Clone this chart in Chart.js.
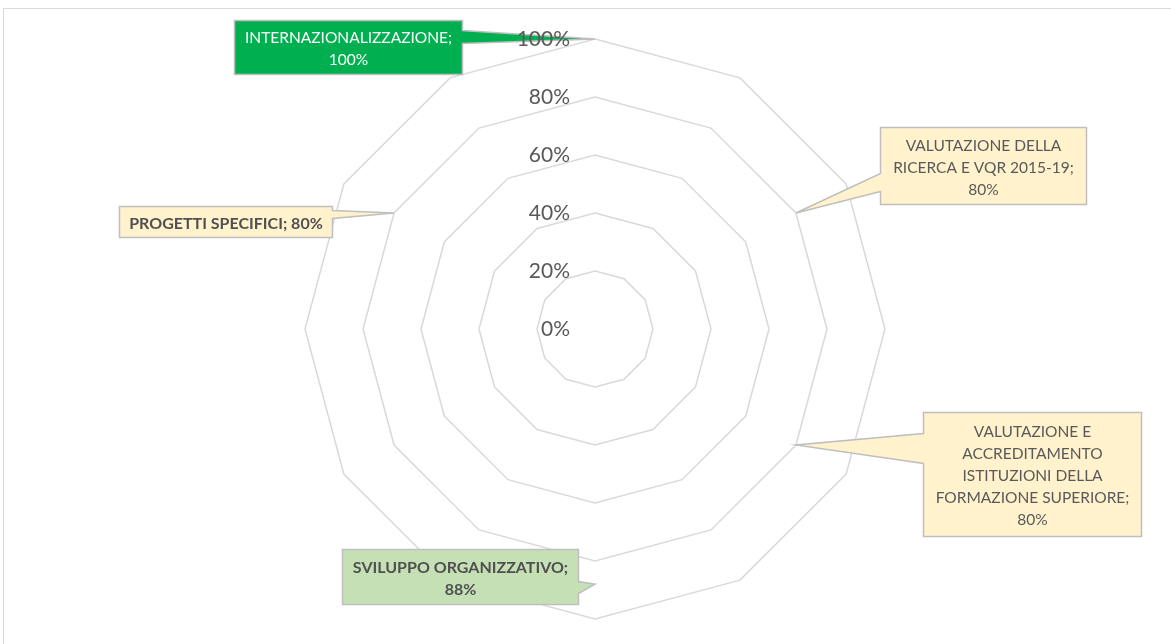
<!DOCTYPE html>
<html>
<head>
<meta charset="utf-8">
<script src="https://cdn.jsdelivr.net/npm/chart.js@4.4.1/dist/chart.umd.min.js"></script>
<style>
  html, body { margin: 0; padding: 0; background: #fff; }
  #wrap { position: relative; width: 1171px; height: 644px; }
</style>
</head>
<body>
<div id="wrap"><canvas id="radar" width="1171" height="644"></canvas></div>
<script>
// categories (blank ones are spokes without a label)
const categories = [
  "INTERNAZIONALIZZAZIONE", "",
  "VALUTAZIONE DELLA RICERCA E VQR 2015-19", "",
  "VALUTAZIONE E ACCREDITAMENTO ISTITUZIONI DELLA FORMAZIONE SUPERIORE", "",
  "SVILUPPO ORGANIZZATIVO", "",
  "", "",
  "PROGETTI SPECIFICI", ""
]
const values = [100, null, 80, null, 80, null, 88, null, null, null, 80, null]
const tickValues = [0, 20, 40, 60, 80, 100]

const FONT = "Lato, 'Open Sans', sans-serif"
const TEXT = "#595959"

// callout boxes, offsets relative to the data point
const callouts = {
  0:  { dx: -361, dy: -19.5, w: 228, h: 54,  side: "right", a: 10, b: 23, fill: "#00b050", color: "#ffffff", bold: false },
  2:  { dx: 84,   dy: -86,   w: 206, h: 77,  side: "left",  a: 46, b: 64, fill: "#fff2cc", color: TEXT, bold: false },
  4:  { dx: 127,  dy: -33,   w: 218, h: 124, side: "left",  a: 21, b: 51, fill: "#fff2cc", color: TEXT, bold: false },
  6:  { dx: -253, dy: -35,   w: 236, h: 55,  side: "right", a: 32, b: 44, fill: "#c5e0b4", color: "#505050", bold: true },
  10: { dx: -275, dy: -7,    w: 213, h: 31,  side: "right", a: 4,  b: 12, fill: "#fff2cc", color: "#505050", bold: true }
}

const wrapText = (ctx, text, maxW) => {
  const lines = []
  let line = ""
  text.split(" ").forEach(word => {
    const test = line ? line + " " + word : word
    if (line && ctx.measureText(test).width > maxW) {
      lines.push(line)
      line = word
    } else {
      line = test
    }
  })
  if (line) lines.push(line)
  return lines
}

const calloutPath = (ctx, x, y, w, h, c, tx, ty) => {
  ctx.beginPath()
  ctx.moveTo(x, y)
  ctx.lineTo(x + w, y)
  if (c.side === "right") {
    ctx.lineTo(x + w, y + c.a)
    ctx.lineTo(tx, ty)
    ctx.lineTo(x + w, y + c.b)
  }
  ctx.lineTo(x + w, y + h)
  ctx.lineTo(x, y + h)
  if (c.side === "left") {
    ctx.lineTo(x, y + c.b)
    ctx.lineTo(tx, ty)
    ctx.lineTo(x, y + c.a)
  }
  ctx.closePath()
}

const frame = {
  id: "frame",
  beforeDraw(chart) {
    const ctx = chart.ctx
    ctx.save()
    ctx.strokeStyle = "#d9d9d9"
    ctx.lineWidth = 1
    ctx.strokeRect(3.5, 8.5, 1300, 800)
    ctx.restore()
  }
}

const labels = {
  id: "labels",
  afterDraw(chart) {
    const ctx = chart.ctx
    const meta = chart.getDatasetMeta(0)
    ctx.save()
    Object.keys(callouts).forEach(k => {
      const i = +k
      const c = callouts[i]
      const pt = meta.data[i]
      const x = Math.round(pt.x + c.dx) + 0.5
      const y = Math.round(pt.y + c.dy) + 0.5
      calloutPath(ctx, x, y, c.w, c.h, c, pt.x, pt.y)
      ctx.fillStyle = c.fill
      ctx.fill()
      ctx.strokeStyle = "#bfbfbf"
      ctx.lineWidth = 1.5
      ctx.stroke()

      ctx.font = c.bold ? "bold 16px " + FONT : "15.5px " + FONT
      ctx.fillStyle = c.color
      ctx.textAlign = "center"
      ctx.textBaseline = "middle"
      const lines = wrapText(ctx, categories[i] + "; " + values[i] + "%", c.w - 12)
      const lh = 22
      const top = y + c.h / 2 + 1.5 - (lines.length - 1) * lh / 2
      lines.forEach((ln, j) => ctx.fillText(ln, x + c.w / 2, top + j * lh))
    })

    // axis tick labels, left of the vertical spoke
    const r = chart.scales.r
    ctx.font = "21px " + FONT
    ctx.fillStyle = TEXT
    ctx.textAlign = "right"
    ctx.textBaseline = "middle"
    tickValues.forEach(v => {
      const y = r.yCenter - r.getDistanceFromCenterForValue(v)
      ctx.fillText(v + "%", r.xCenter - 25, y)
    })
    ctx.restore()
  }
}

new Chart(document.getElementById("radar"), {
  type: "radar",
  data: {
    labels: categories,
    datasets: [{
      label: "Avanzamento",
      data: values,
      borderColor: "transparent",
      backgroundColor: "transparent",
      pointRadius: 0,
      fill: false,
      spanGaps: true
    }]
  },
  options: {
    responsive: false,
    animation: false,
    layout: { padding: { top: 39, bottom: 25, left: 305, right: 286 } },
    plugins: {
      legend: { display: false },
      tooltip: { enabled: false }
    },
    scales: {
      r: {
        min: 0,
        max: 100,
        ticks: { display: false, stepSize: 20 },
        pointLabels: { display: false },
        angleLines: { display: false },
        grid: { color: "#d9d9d9", lineWidth: 1.5, circular: false }
      }
    }
  },
  plugins: [frame, labels]
})
</script>
</body>
</html>
